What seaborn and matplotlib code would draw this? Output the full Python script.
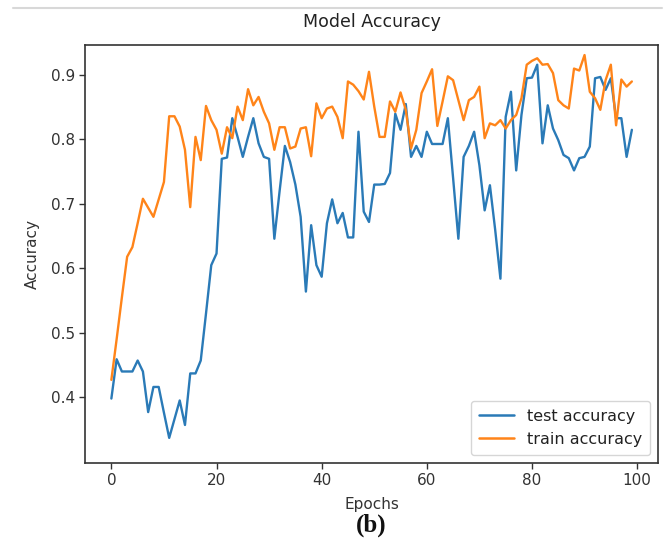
import numpy as np
import pandas as pd
import matplotlib
matplotlib.use("Agg")
import matplotlib.pyplot as plt
from matplotlib.lines import Line2D
import seaborn as sns

epochs = list(range(100))

test_accuracy = [
    0.398, 0.459, 0.440, 0.440, 0.440, 0.457, 0.440, 0.377, 0.416, 0.416,
    0.376, 0.337, 0.366, 0.395, 0.357, 0.437, 0.437, 0.457, 0.530, 0.605,
    0.623, 0.770, 0.772, 0.833, 0.804, 0.773, 0.804, 0.833, 0.794, 0.773,
    0.770, 0.646, 0.720, 0.790, 0.765, 0.730, 0.680, 0.564, 0.667, 0.605,
    0.587, 0.670, 0.707, 0.670, 0.686, 0.648, 0.648, 0.812, 0.688, 0.672,
    0.730, 0.730, 0.731, 0.748, 0.840, 0.815, 0.855, 0.773, 0.790, 0.773,
    0.812, 0.793, 0.793, 0.793, 0.833, 0.740, 0.646, 0.773, 0.790, 0.812,
    0.760, 0.690, 0.729, 0.660, 0.584, 0.835, 0.874, 0.752, 0.838, 0.895,
    0.896, 0.916, 0.794, 0.853, 0.817, 0.799, 0.776, 0.771, 0.752, 0.771,
    0.773, 0.789, 0.895, 0.897, 0.877, 0.895, 0.833, 0.833, 0.773, 0.815,
]

train_accuracy = [
    0.427, 0.490, 0.555, 0.618, 0.633, 0.670, 0.708, 0.694, 0.680, 0.707,
    0.734, 0.836, 0.836, 0.820, 0.784, 0.695, 0.804, 0.768, 0.852, 0.830,
    0.815, 0.778, 0.819, 0.802, 0.851, 0.830, 0.878, 0.853, 0.866, 0.843,
    0.825, 0.784, 0.819, 0.819, 0.786, 0.789, 0.817, 0.819, 0.774, 0.856,
    0.833, 0.848, 0.851, 0.835, 0.802, 0.890, 0.885, 0.875, 0.862, 0.905,
    0.851, 0.804, 0.804, 0.859, 0.843, 0.873, 0.846, 0.786, 0.815, 0.872,
    0.890, 0.909, 0.821, 0.859, 0.898, 0.892, 0.861, 0.830, 0.861, 0.866,
    0.882, 0.802, 0.825, 0.822, 0.830, 0.817, 0.830, 0.838, 0.864, 0.916,
    0.922, 0.926, 0.916, 0.917, 0.903, 0.861, 0.853, 0.848, 0.910, 0.907,
    0.931, 0.874, 0.864, 0.846, 0.892, 0.916, 0.822, 0.893, 0.882, 0.890,
]

series_names = ["test accuracy", "train accuracy"]
series_colors = ["#2a7ab7", "#ff8419"]

df = pd.DataFrame({
    "Epochs": epochs * 2,
    "Accuracy": test_accuracy + train_accuracy,
    "series": [series_names[0]] * len(epochs) + [series_names[1]] * len(epochs),
})

sns.set_style("ticks")
plt.rcParams["font.family"] = ["DejaVu Sans"]

fig = plt.figure(figsize=(6.72, 5.39), dpi=100)
ax = fig.add_axes([0.127, 0.141, 0.852, 0.776])

sns.lineplot(data=df, x="Epochs", y="Accuracy", hue="series",
             palette=dict(zip(series_names, series_colors)),
             linewidth=1.7, ax=ax)

ax.set_xlim(-4.95, 103.95)
ax.set_ylim(0.298, 0.947)
ax.set_xticks([0, 20, 40, 60, 80, 100])
ax.set_yticks([0.4, 0.5, 0.6, 0.7, 0.8, 0.9])
ax.set_yticklabels(["0.4", "0.5", "0.6", "0.7", "0.8", "0.9"])
ax.tick_params(axis="both", labelsize=11, colors="#333333", length=4, width=1)
for s in ax.spines.values():
    s.set_visible(True)
    s.set_color("#333333")
    s.set_linewidth(1.2)

ax.set_title("Model Accuracy", fontsize=12.5, color="#222222", pad=13)
ax.set_xlabel("Epochs", fontsize=11, color="#333333", labelpad=6)
ax.set_ylabel("Accuracy", fontsize=11, color="#333333", labelpad=8)

leg = ax.legend(loc="lower right", fontsize=11.5, frameon=True,
                handlelength=2.2, borderpad=0.5, labelspacing=0.5)
leg.get_frame().set_edgecolor("#cccccc")
for line in leg.get_lines():
    line.set_linewidth(1.8)
for t in leg.get_texts():
    t.set_color("#222222")

# panel frame line and label of the figure
fig.add_artist(Line2D([0.02, 0.985], [0.985, 0.985], color="#d8d8d8", lw=1.5))
fig.text(0.553, 0.004, "(b)", fontsize=18, fontweight="bold",
         family=["Liberation Serif", "DejaVu Serif"], ha="center", va="bottom",
         color="#111111")

fig.savefig("out.png", dpi=100)
